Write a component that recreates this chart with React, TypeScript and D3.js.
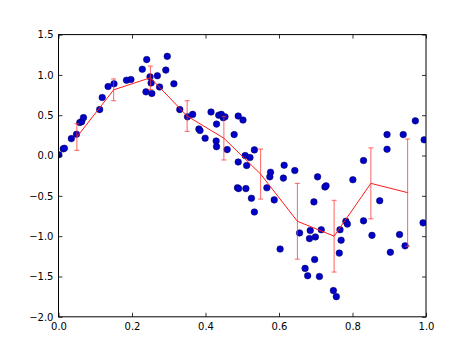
import React, { useEffect, useRef } from 'react';
import * as d3 from 'd3';

// scatter samples
const sampleX = [
  0.001, 0.013, 0.016, 0.035, 0.049, 0.058, 0.063, 0.068, 0.112, 0.119,
  0.135, 0.151, 0.185, 0.197, 0.228, 0.24, 0.249, 0.252, 0.238, 0.254,
  0.269, 0.292, 0.296, 0.275, 0.314, 0.33, 0.351, 0.365, 0.382, 0.385,
  0.399, 0.415, 0.43, 0.429, 0.43, 0.436, 0.443, 0.448, 0.453, 0.459,
  0.478, 0.489, 0.502, 0.489, 0.508, 0.512, 0.521, 0.533, 0.487, 0.49,
  0.51, 0.525, 0.533, 0.567, 0.577, 0.575, 0.587, 0.603, 0.612, 0.614,
  0.643, 0.656, 0.671, 0.678, 0.683, 0.685, 0.695, 0.697, 0.699, 0.705,
  0.71, 0.715, 0.725, 0.728, 0.748, 0.756, 0.764, 0.766, 0.769, 0.782,
  0.786, 0.801, 0.83, 0.83, 0.853, 0.874, 0.894, 0.894, 0.903, 0.928,
  0.938, 0.943, 0.971, 0.992, 0.995,
];
const sampleY = [
  0.01, 0.083, 0.09, 0.21, 0.265, 0.41, 0.42, 0.47, 0.57, 0.72,
  0.856, 0.89, 0.934, 0.943, 1.07, 1.19, 0.976, 0.9, 0.79, 0.77,
  0.99, 1.06, 1.23, 0.85, 0.89, 0.57, 0.48, 0.51, 0.33, 0.31,
  0.215, 0.54, 0.39, 0.18, 0.11, 0.5, 0.51, 0.47, 0.48, 0.074,
  0.26, 0.49, 0.44, -0.08, 0.0, -0.124, -0.025, 0.07, -0.4, -0.41,
  -0.41, -0.53, -0.7, -0.4, -0.207, -0.264, -0.55, -1.16, -0.28, -0.12,
  -0.186, -0.96, -1.4, -1.49, -1.03, -0.93, -0.575, -1.29, -1.01, -0.264,
  -1.5, -0.92, -0.39, -0.376, -1.675, -1.75, -1.21, -0.92, -1.05, -0.815,
  -0.85, -0.3, -0.062, -0.81, -0.99, -0.56, 0.078, 0.26, -1.2, -0.98,
  0.26, -1.12, 0.43, -0.835, 0.195,
];

// binned means with error bars
const binX = [0.05, 0.15, 0.25, 0.35, 0.45, 0.55, 0.65, 0.75, 0.85, 0.95];
const binMean = [0.23, 0.815, 0.965, 0.49, 0.215, -0.23, -0.815, -1.0, -0.345, -0.46];
const binErr = [0.165, 0.135, 0.145, 0.19, 0.27, 0.31, 0.47, 0.445, 0.44, 0.665];

const xTicks = [0, 0.2, 0.4, 0.6, 0.8, 1.0];
const yTicks = [-2.0, -1.5, -1.0, -0.5, 0.0, 0.5, 1.0, 1.5];

export default function App() {
  const svgRef = useRef<SVGSVGElement>(null);

  useEffect(() => {
    if (!svgRef.current) return;
    d3.select(svgRef.current).selectAll("*").remove();

    const W = 474, H = 353;
    const left = 58.5, right = 426, top = 34.6, bottom = 316.8;

    const svg = d3.select(svgRef.current)
      .attr("width", W)
      .attr("height", H);

    const x = d3.scaleLinear().domain([0, 1]).range([left, right]);
    const y = d3.scaleLinear().domain([-2, 1.5]).range([bottom, top]);

    svg.append("rect").attr("width", W).attr("height", H).attr("fill", "#fff");

    svg.append("defs").append("clipPath").attr("id", "plot-clip")
      .append("rect")
      .attr("x", left).attr("y", top)
      .attr("width", right - left).attr("height", bottom - top);

    const plot = svg.append("g").attr("clip-path", "url(#plot-clip)");

    // scatter
    plot.selectAll(".dot")
      .data(d3.range(sampleX.length))
      .enter().append("circle")
      .attr("class", "dot")
      .attr("cx", i => x(sampleX[i]))
      .attr("cy", i => y(sampleY[i]))
      .attr("r", 3.3)
      .attr("fill", "#0000c8")
      .attr("stroke", "#00005a")
      .attr("stroke-width", 0.5);

    // error bars
    const eb = plot.append("g")
      .attr("stroke", "#ff3030")
      .attr("stroke-opacity", 0.75)
      .attr("stroke-width", 1);
    binX.forEach((bx, i) => {
      const cx = x(bx);
      const y0 = y(binMean[i] - binErr[i]);
      const y1 = y(binMean[i] + binErr[i]);
      eb.append("line").attr("x1", cx).attr("x2", cx).attr("y1", y0).attr("y2", y1);
      eb.append("line").attr("x1", cx - 2.5).attr("x2", cx + 2.5).attr("y1", y0).attr("y2", y0);
      eb.append("line").attr("x1", cx - 2.5).attr("x2", cx + 2.5).attr("y1", y1).attr("y2", y1);
    });

    const line = d3.line<number>()
      .x(i => x(binX[i]))
      .y(i => y(binMean[i]));

    plot.append("path")
      .datum(d3.range(binX.length))
      .attr("fill", "none")
      .attr("stroke", "#ff1a1a")
      .attr("stroke-width", 1)
      .attr("d", line);

    const fmt = (v: number) => d3.format(".1f")(v).replace("-", "\u2212");

    const styleAxis = (g: d3.Selection<SVGGElement, unknown, null, undefined>) => {
      g.select(".domain").remove();
      g.selectAll("line").attr("stroke", "#000").attr("stroke-width", 0.8);
      g.selectAll("text")
        .attr("fill", "#000")
        .attr("font-size", "10px")
        .attr("font-family", "DejaVu Sans, sans-serif");
    };

    svg.append("g")
      .attr("transform", `translate(0,${bottom})`)
      .call(d3.axisBottom(x).tickValues(xTicks).tickSize(-4).tickPadding(6).tickFormat(d => fmt(+d)))
      .call(styleAxis);

    svg.append("g")
      .attr("transform", `translate(0,${top})`)
      .call(d3.axisTop(x).tickValues(xTicks).tickSize(-4).tickFormat(() => ""))
      .call(styleAxis);

    svg.append("g")
      .attr("transform", `translate(${left},0)`)
      .call(d3.axisLeft(y).tickValues(yTicks).tickSize(-4).tickPadding(5).tickFormat(d => fmt(+d)))
      .call(styleAxis);

    svg.append("g")
      .attr("transform", `translate(${right},0)`)
      .call(d3.axisRight(y).tickValues(yTicks).tickSize(-4).tickFormat(() => ""))
      .call(styleAxis);

    // frame
    svg.append("rect")
      .attr("x", left).attr("y", top)
      .attr("width", right - left).attr("height", bottom - top)
      .attr("fill", "none")
      .attr("stroke", "#000")
      .attr("stroke-width", 1);
  }, []);

  return (
    <div style={{ position: "absolute", left: 0, top: 0 }}>
      <svg ref={svgRef} style={{ display: "block" }}></svg>
    </div>
  );
}
